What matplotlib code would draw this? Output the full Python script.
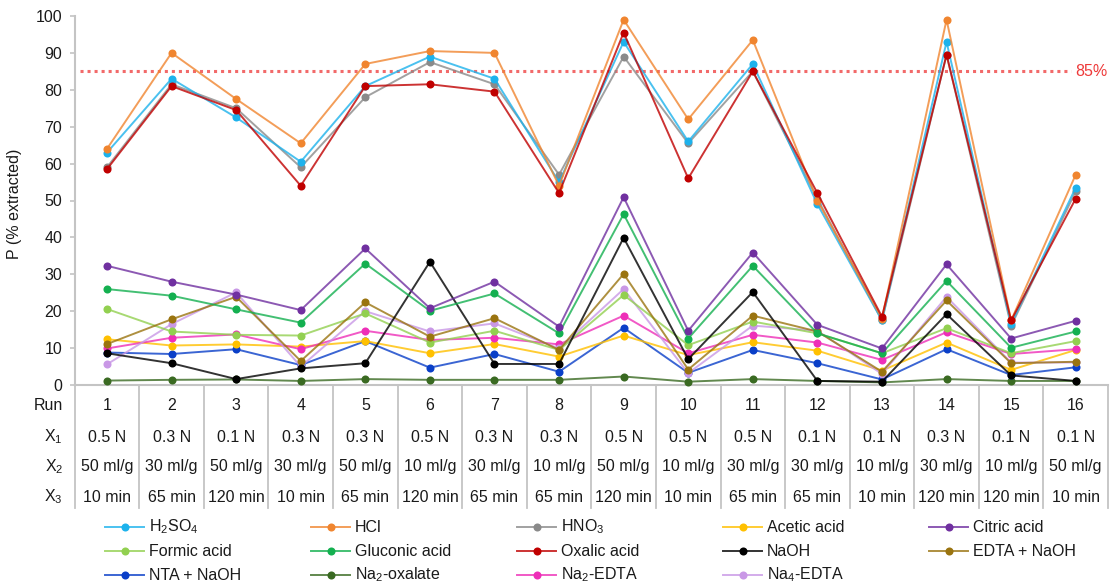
import matplotlib
matplotlib.use("Agg")
import matplotlib.pyplot as plt
import matplotlib.transforms as mtransforms
from matplotlib.colors import to_rgba
from matplotlib.lines import Line2D

plt.rcParams['font.family'] = ['Liberation Sans', 'DejaVu Sans']
plt.rcParams['mathtext.fontset'] = 'custom'
plt.rcParams['mathtext.rm'] = 'Liberation Sans'
plt.rcParams['mathtext.it'] = 'Liberation Sans:italic'
plt.rcParams['mathtext.bf'] = 'Liberation Sans:bold'

# ---- experimental design (16 runs) ----
runs = list(range(1, 17))
x1_conc = ["0.5 N", "0.3 N", "0.1 N", "0.3 N", "0.3 N", "0.5 N", "0.3 N", "0.3 N",
           "0.5 N", "0.5 N", "0.5 N", "0.1 N", "0.1 N", "0.3 N", "0.1 N", "0.1 N"]
x2_ratio = ["50 ml/g", "30 ml/g", "50 ml/g", "30 ml/g", "50 ml/g", "10 ml/g", "30 ml/g", "10 ml/g",
            "50 ml/g", "10 ml/g", "30 ml/g", "30 ml/g", "10 ml/g", "30 ml/g", "10 ml/g", "50 ml/g"]
x3_time = ["10 min", "65 min", "120 min", "10 min", "65 min", "120 min", "65 min", "65 min",
           "120 min", "10 min", "65 min", "65 min", "10 min", "120 min", "120 min", "10 min"]

# ---- P extracted (%) per extractant ----
h2so4 = [63, 83, 72.5, 60.5, 81, 89, 83, 55, 93, 66, 87, 49, 17.5, 93, 16.5, 53.5]
hcl = [64, 90, 77.5, 65.5, 87, 90.5, 90, 54, 99, 72, 93.5, 50, 18, 99, 17.5, 57]
hno3 = [59, 81.5, 75, 59, 78, 87.5, 81.5, 57, 89, 65.5, 85, 50.5, 17.5, 89.5, 16, 52.5]
acetic = [12.4, 10.7, 11, 10.4, 11.9, 8.6, 11.1, 7.7, 13.4, 8.1, 11.6, 9.3, 3.9, 11.5, 4.1, 9.5]
citric = [32.3, 28, 24.5, 20.3, 37, 20.8, 28, 15.8, 50.9, 14.7, 35.9, 16.3, 9.9, 32.7, 12.6, 17.4]
formic = [20.6, 14.5, 13.6, 13.4, 19.4, 11.5, 14.7, 9.5, 24.4, 10.8, 17.2, 14, 8.6, 15.4, 8.6, 11.9]
gluconic = [26, 24.2, 20.5, 16.9, 32.9, 20.1, 24.8, 14, 46.3, 12.6, 32.3, 14, 8.6, 28.2, 10.1, 14.5]
oxalic = [58.5, 81, 74.5, 54, 81, 81.5, 79.5, 52, 95.5, 56, 85, 52, 18.5, 89.5, 17.5, 50.5]
naoh = [8.6, 5.9, 1.6, 4.5, 5.9, 33.4, 5.7, 5.7, 39.9, 7, 25.2, 1.1, 0.9, 19.2, 2.6, 1.1]
edta_naoh = [11.1, 17.8, 23.9, 6.5, 22.4, 13.1, 18.1, 9.5, 30.1, 4.2, 18.8, 14.5, 3.6, 22.9, 5.9, 6.3]
nta_naoh = [8.8, 8.4, 9.7, 5.4, 11.9, 4.7, 8.4, 3.6, 15.5, 3.3, 9.5, 5.9, 1.5, 9.7, 2.7, 4.8]
na2_oxalate = [1.2, 1.4, 1.5, 1.1, 1.6, 1.4, 1.4, 1.4, 2.3, 0.9, 1.6, 1.1, 0.7, 1.6, 1.1, 1.1]
na2_edta = [9.9, 12.8, 13.7, 9.7, 14.7, 12.2, 12.8, 11, 18.8, 8.6, 13.6, 11.5, 6.8, 14.3, 8.4, 9.7]
na4_edta = [5.6, 16.5, 25.1, 5, 20, 14.5, 16.7, 9.9, 26, 3.2, 16.1, 14.7, 3, 23.9, 6.1, 6.1]

threshold = 85

# name, label, values, colour (legend order, row by row)
series = [
    ("h2so4", r"H$_\mathregular{2}$SO$_\mathregular{4}$", h2so4, "#1db2ec"),
    ("hcl", "HCl", hcl, "#f0852f"),
    ("hno3", r"HNO$_\mathregular{3}$", hno3, "#8a8a8a"),
    ("acetic", "Acetic acid", acetic, "#ffc000"),
    ("citric", "Citric acid", citric, "#7030a0"),
    ("formic", "Formic acid", formic, "#92d050"),
    ("gluconic", "Gluconic acid", gluconic, "#14b050"),
    ("oxalic", "Oxalic acid", oxalic, "#c00000"),
    ("naoh", "NaOH", naoh, "#000000"),
    ("edta_naoh", "EDTA + NaOH", edta_naoh, "#9a7410"),
    ("nta_naoh", "NTA + NaOH", nta_naoh, "#0a3fc8"),
    ("na2_oxalate", r"Na$_\mathregular{2}$-oxalate", na2_oxalate, "#3a6a22"),
    ("na2_edta", r"Na$_\mathregular{2}$-EDTA", na2_edta, "#ee2fb8"),
    ("na4_edta", r"Na$_\mathregular{4}$-EDTA", na4_edta, "#c998e6"),
]

TEXT = "#1a1a1a"
W, H = 1115, 585
fig = plt.figure(figsize=(W / 100, H / 100), dpi=100)
ax = fig.add_axes([74.7 / W, 200 / H, 1033.3 / W, 369 / H])

# draw the low-yield extractants first, mineral acids on top
draw_order = ["na2_oxalate", "nta_naoh", "acetic", "na2_edta", "na4_edta", "formic",
              "edta_naoh", "naoh", "gluconic", "citric",
              "hno3", "h2so4", "hcl", "oxalic"]
lookup = {s[0]: s for s in series}
for key in draw_order:
    _, lab, vals, col = lookup[key]
    ax.plot(runs, vals, color=to_rgba(col, 0.8), lw=1.4, marker="o", ms=5.8,
            markerfacecolor=col, markeredgewidth=0, clip_on=False, zorder=3)

# 85 % reference line
ax.plot([0.58, 15.92], [threshold, threshold], color="#f26a6a", lw=2.2,
        linestyle=(0, (1.0, 1.3)), zorder=2)
ax.text(16.0, threshold, f"{threshold}%", color="#ee3a3a", fontsize=11.5,
        ha="left", va="center")

ax.set_xlim(0.5, 16.5)
ax.set_ylim(0, 100)
ax.set_yticks(range(0, 101, 10))
ax.set_xticks([])
for side in ("top", "right"):
    ax.spines[side].set_visible(False)
for side in ("left", "bottom"):
    ax.spines[side].set_color("#c4c4c4")
    ax.spines[side].set_linewidth(1.5)
ax.tick_params(axis="y", length=3.5, width=1.2, color="#c4c4c4", labelsize=11.5,
               pad=5.5, labelcolor=TEXT)
ax.set_ylabel("P (% extracted)", fontsize=11.5, color=TEXT)
ax.yaxis.set_label_coords(-0.051, 0.49)

# design table under the axis
trans = mtransforms.blended_transform_factory(ax.transData, ax.transAxes)
px = 1 / 369.0
table_bottom = -(508 - 385) * px
for b in [r + 0.5 for r in [0] + runs]:
    ax.plot([b, b], [0, table_bottom], transform=trans, color="#c4c4c4", lw=1.3,
            clip_on=False, zorder=1)

row_y = [-(406 - 385) * px, -(437 - 385) * px, -(467 - 385) * px, -(497 - 385) * px]
row_labels = ["Run", r"X$_\mathregular{1}$", r"X$_\mathregular{2}$", r"X$_\mathregular{3}$"]
row_values = [[str(r) for r in runs], x1_conc, x2_ratio, x3_time]
label_x = (63 - 74.7) / 1033.3
for yy, lab, vals in zip(row_y, row_labels, row_values):
    ax.text(label_x, yy, lab, transform=ax.transAxes, ha="right", va="center",
            fontsize=11.5, color=TEXT)
    for r, v in zip(runs, vals):
        ax.text(r, yy, v, transform=trans, ha="center", va="center",
                fontsize=11.5, color=TEXT)

# legend: 5 columns x 3 rows
col_x = [105, 311, 517, 723, 929]
leg_rows = [527, 551, 575]
for i, (_, lab, vals, col) in enumerate(series):
    r, c = divmod(i, 5)
    x0 = col_x[c] / W
    x1 = (col_x[c] + 39) / W
    y = 1 - leg_rows[r] / H
    fig.add_artist(Line2D([x0, x1], [y, y], transform=fig.transFigure,
                          color=to_rgba(col, 0.8), lw=1.4))
    fig.add_artist(Line2D([(x0 + x1) / 2], [y], transform=fig.transFigure,
                          color=col, marker="o", ms=5.8, markeredgewidth=0, lw=0))
    fig.text((col_x[c] + 44) / W, y, lab, ha="left", va="center",
             fontsize=11.5, color=TEXT)

fig.savefig("out.png", dpi=100)
